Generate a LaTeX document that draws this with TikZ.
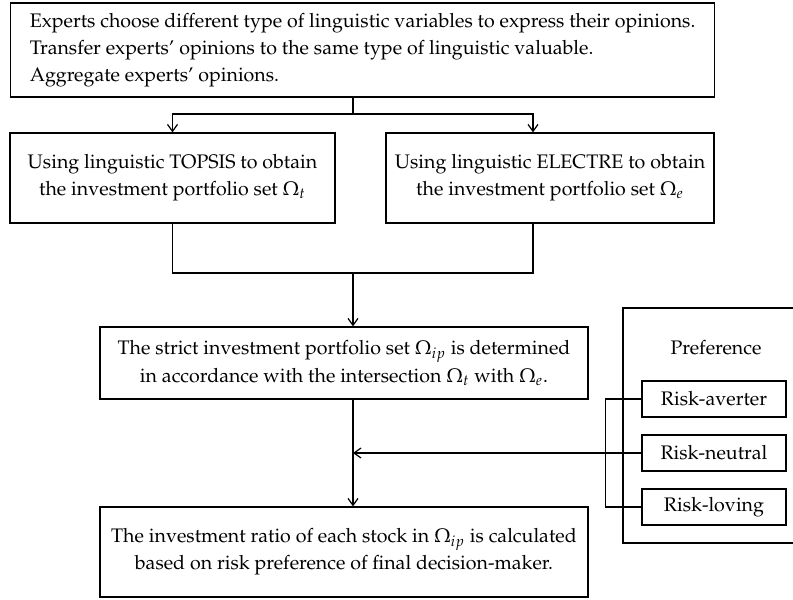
\documentclass[tikz,border=0pt]{standalone}
\usepackage[T1]{fontenc}
\usepackage{mathpazo}
\usetikzlibrary{arrows.meta,positioning,calc}

\begin{document}
\begin{tikzpicture}[x=0.5pt, y=-0.5pt, line width=0.6pt,
    font=\fontsize{9.8}{13.6}\selectfont,
    box/.style={draw, inner sep=0pt, align=center},
    arr/.style={-{Straight Barb[length=3.5pt,width=5pt]}}]
    \useasboundingbox (0,0) rectangle (793,600);

    \node[box, anchor=west, inner xsep=8pt, minimum width=352pt, minimum height=47pt, align=left] at (10,50) (input) {Experts choose different type of linguistic variables to express their opinions.\\ Transfer experts' opinions to the same type of linguistic valuable.\\ Aggregate experts' opinions.};
    \node[box, minimum width=162.5pt, minimum height=45pt] at (172.5,178) (topsis) {Using linguistic TOPSIS to obtain\\ the investment portfolio set $\Omega_t$};
    \node[box, minimum width=164pt, minimum height=45pt] at (550,178) (electre) {Using linguistic ELECTRE to obtain\\ the investment portfolio set $\Omega_e$};
    \node[box, minimum width=244pt, minimum height=36pt] at (344,363) (strict) {The strict investment portfolio set $\Omega_{ip}$ is determined\\ in accordance with the intersection $\Omega_t$ with $\Omega_e$.};
    \node[box, minimum width=244pt, minimum height=45pt] at (344,552) (ratio) {The investment ratio of each stock in $\Omega_{ip}$ is calculated\\ based on risk preference of final decision-maker.};

    \node[box, minimum width=88.5pt, minimum height=117.5pt] at (711.5,425.5) (pref) {};
    \node at (716,348) (preflabel) {Preference};
    \node[box, minimum width=72pt, minimum height=18pt] at (714,399) (averter) {Risk-averter};
    \node[box, minimum width=72pt, minimum height=18pt] at (714,453) (neutral) {Risk-neutral};
    \node[box, minimum width=72pt, minimum height=18pt] at (714,507) (loving) {Risk-loving};

    \coordinate (split) at (353,114);
    \coordinate (merge) at (353,273);

    \draw (input.south -| split) -- (split);
    \draw[arr] (split) -| (topsis.north);
    \draw[arr] (split) -| ([xshift=-8.5pt]electre.north);
    \draw (topsis.south) |- (merge);
    \draw ([xshift=-8.5pt]electre.south) |- (merge);
    \draw[arr] (merge) -- (merge |- strict.north);
    \draw[arr] (strict.south -| merge) -- (ratio.north -| merge);
    \draw[arr] (neutral.west) -- (neutral.west -| merge);
    \draw (averter.west) -- ++(-36,0) |- (loving.west);
\end{tikzpicture}
\end{document}
